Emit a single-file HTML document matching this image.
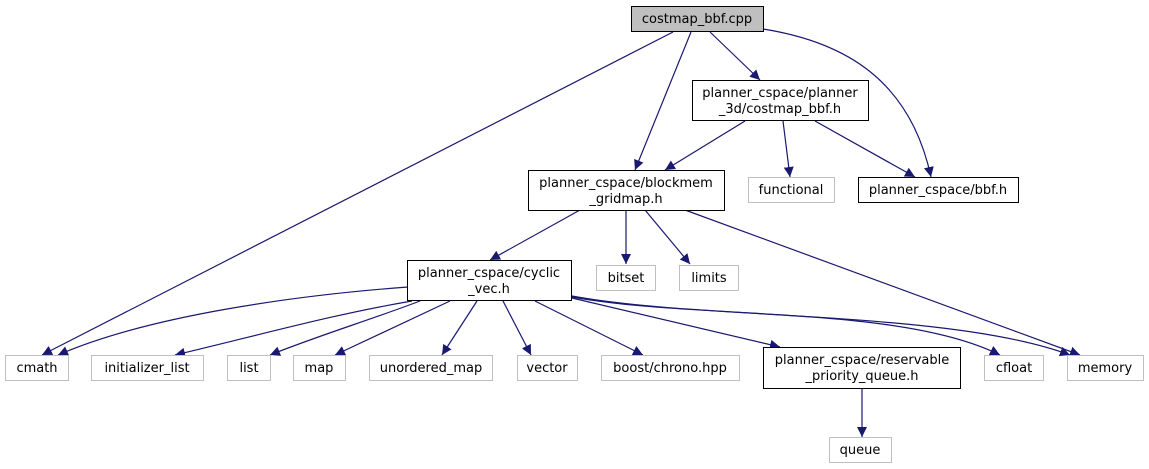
<!DOCTYPE html>
<html><head><meta charset="utf-8"><style>
html,body{margin:0;padding:0;background:#fff;}
svg{display:block;}
text{font-family:"DejaVu Sans","Liberation Sans",sans-serif;font-size:13px;fill:#000;}
</style></head><body>
<svg width="1149" height="469" viewBox="0 0 1149 469" xmlns="http://www.w3.org/2000/svg">
<defs>
<marker id="a" viewBox="0 0 10 10" refX="10" refY="5" markerWidth="10" markerHeight="10" markerUnits="userSpaceOnUse" orient="auto">
<path d="M0,0 L10,5 L0,10 z" fill="#191970"/>
</marker>
</defs>
<g fill="none" stroke="#191970" stroke-width="1.2" marker-end="url(#a)">
<path d="M673,32 L42,355"/>
<path d="M691,32 L635,170"/>
<path d="M710,32 L760,80"/>
<path d="M763,29 C845,42 910,80 931,177"/>
<path d="M745,121 L665,170"/>
<path d="M783,121 L790,177"/>
<path d="M815,121 L915,177"/>
<path d="M580,210 L490,260"/>
<path d="M626,210 L626,264"/>
<path d="M645,210 L690,264"/>
<path d="M685,210 L1080,355"/>
<path d="M408,287 C300,295 150,315 58,355"/>
<path d="M412,301 C330,315 260,335 175,355"/>
<path d="M420,301 C370,320 320,335 270,355"/>
<path d="M450,301 L335,355"/>
<path d="M477,301 L442,355"/>
<path d="M503,301 L531,355"/>
<path d="M535,301 L643,355"/>
<path d="M572,298 L780,347"/>
<path d="M572,297 C700,320 900,305 1000,355"/>
<path d="M572,296 C700,320 950,310 1070,355"/>
<path d="M862,388 L862,437"/>
</g>
<g stroke-width="1">
<rect x="631.5" y="6.5" width="132" height="25" fill="#bfbfbf" stroke="#000"/>
<rect x="692.5" y="80.5" width="176" height="40" fill="#fff" stroke="#000"/>
<rect x="528.5" y="170.5" width="196" height="40" fill="#fff" stroke="#000"/>
<rect x="748.5" y="177.5" width="86" height="25" fill="#fff" stroke="#bfbfbf"/>
<rect x="858.5" y="177.5" width="160" height="25" fill="#fff" stroke="#000"/>
<rect x="407.5" y="260.5" width="164" height="40" fill="#fff" stroke="#000"/>
<rect x="596.5" y="265.5" width="59" height="25" fill="#fff" stroke="#bfbfbf"/>
<rect x="679.5" y="265.5" width="59" height="25" fill="#fff" stroke="#bfbfbf"/>
<rect x="5.5" y="355.5" width="63" height="25" fill="#fff" stroke="#bfbfbf"/>
<rect x="91.5" y="355.5" width="112" height="25" fill="#fff" stroke="#bfbfbf"/>
<rect x="227.5" y="355.5" width="43" height="25" fill="#fff" stroke="#bfbfbf"/>
<rect x="293.5" y="355.5" width="52" height="25" fill="#fff" stroke="#bfbfbf"/>
<rect x="369.5" y="355.5" width="123" height="25" fill="#fff" stroke="#bfbfbf"/>
<rect x="517.5" y="355.5" width="60" height="25" fill="#fff" stroke="#bfbfbf"/>
<rect x="601.5" y="355.5" width="138" height="25" fill="#fff" stroke="#bfbfbf"/>
<rect x="763.5" y="347.5" width="197" height="41" fill="#fff" stroke="#000"/>
<rect x="984.5" y="355.5" width="59" height="25" fill="#fff" stroke="#bfbfbf"/>
<rect x="1067.5" y="355.5" width="76" height="25" fill="#fff" stroke="#bfbfbf"/>
<rect x="829.5" y="437.5" width="62" height="25" fill="#fff" stroke="#bfbfbf"/>
</g>
<g text-anchor="middle">
<text x="697" y="23">costmap_bbf.cpp</text>
<text x="780" y="97">planner_cspace/planner</text>
<text x="780" y="113">_3d/costmap_bbf.h</text>
<text x="626" y="187">planner_cspace/blockmem</text>
<text x="626" y="203">_gridmap.h</text>
<text x="791" y="194">functional</text>
<text x="938" y="194">planner_cspace/bbf.h</text>
<text x="489" y="277">planner_cspace/cyclic</text>
<text x="489" y="293">_vec.h</text>
<text x="626" y="282">bitset</text>
<text x="709" y="282">limits</text>
<text x="37" y="372">cmath</text>
<text x="147" y="372">initializer_list</text>
<text x="249" y="372">list</text>
<text x="319" y="372">map</text>
<text x="431" y="372">unordered_map</text>
<text x="547" y="372">vector</text>
<text x="670" y="372">boost/chrono.hpp</text>
<text x="862" y="364">planner_cspace/reservable</text>
<text x="862" y="380">_priority_queue.h</text>
<text x="1014" y="372">cfloat</text>
<text x="1105" y="372">memory</text>
<text x="860" y="454">queue</text>
</g>
</svg>
</body></html>
